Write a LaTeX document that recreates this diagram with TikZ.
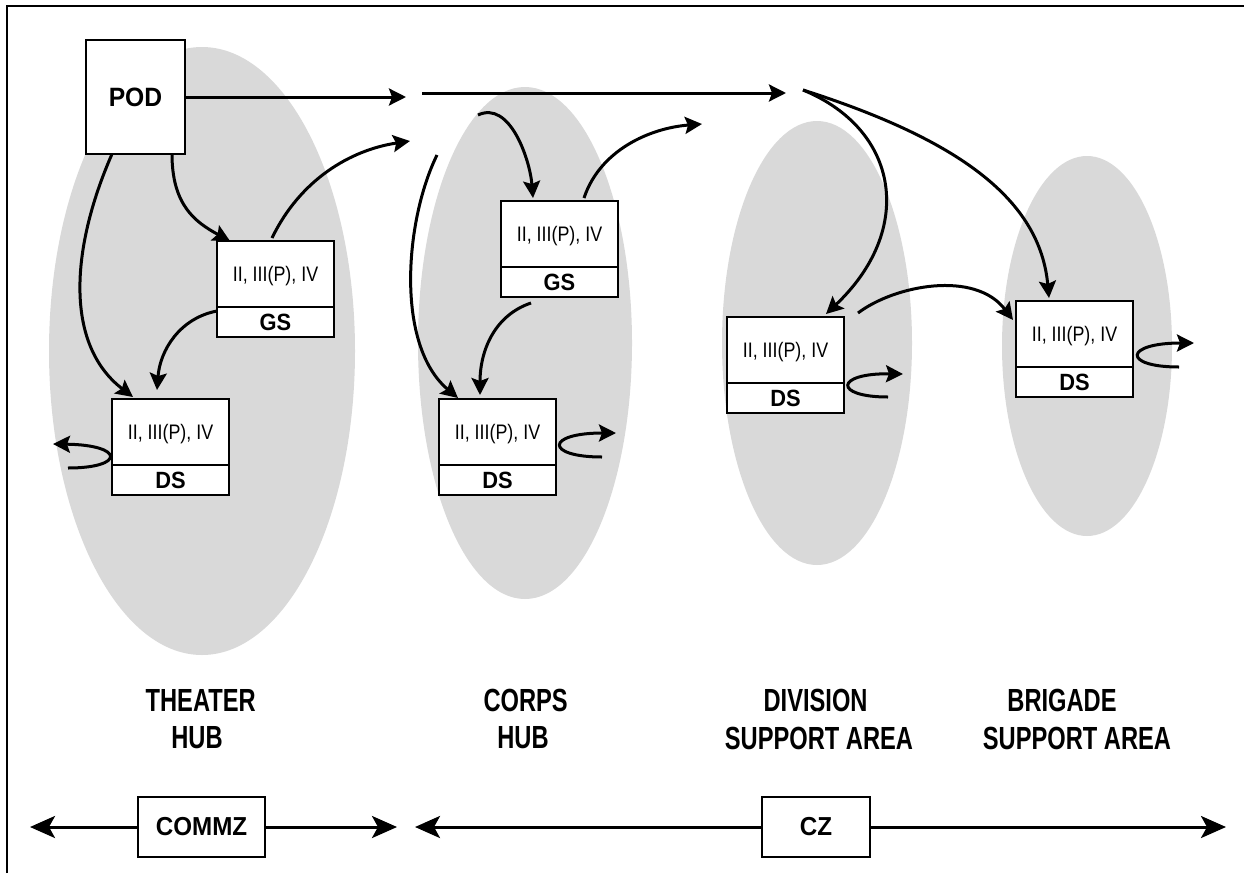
\documentclass[tikz,border=0pt]{standalone}
\usepackage{fontspec}
\setmainfont{Liberation Sans}
\newfontfamily\boxfont{Liberation Sans}[FakeStretch=0.85]
\newfontfamily\tagfont{Liberation Sans}[FakeStretch=0.93]
\newfontfamily\labfont{Liberation Sans}[FakeStretch=0.74]
\usetikzlibrary{arrows.meta}
\definecolor{ellgray}{RGB}{217,217,217}
\begin{document}
\begin{tikzpicture}[x=1pt,y=-1pt,
  hub/.style={fill=ellgray, draw=none},
  upbox/.style={draw, line width=2pt, fill=white, minimum width=117pt, minimum height=66pt, inner sep=0pt, outer sep=0pt, text depth=0pt, font=\boxfont\fontsize{21}{24}\selectfont},
  lowbox/.style={draw, line width=2pt, fill=white, minimum width=117pt, minimum height=30pt, inner sep=0pt, outer sep=0pt, font=\tagfont\fontsize{23.5}{26}\selectfont\bfseries},
  zonebox/.style={draw, line width=1.6pt, fill=white, minimum height=60pt, inner sep=0pt, outer sep=0pt, font=\tagfont\fontsize{26}{28}\selectfont\bfseries},
  lab/.style={inner sep=0pt, font=\labfont\fontsize{32}{36}\selectfont\bfseries},
  flow/.style={line width=3pt, -{Stealth[length=17pt,width=17pt,inset=3pt]}},
  bigflow/.style={line width=3pt, -{Stealth[length=25pt,width=22pt,inset=6pt]}}
]
\useasboundingbox (0,0) rectangle (1244,873);
% frame
\draw[line width=2.2pt] (7,873) -- (7,6) -- (1244,6);
% hubs
\fill[hub] (202,351) ellipse [x radius=153pt, y radius=304pt];
\fill[hub] (525,343) ellipse [x radius=107pt, y radius=256pt];
\fill[hub] (817,343) ellipse [x radius=95pt, y radius=222pt];
\fill[hub] (1087,346) ellipse [x radius=85pt, y radius=190pt];
% boxes
\node[draw, line width=2pt, fill=white, minimum width=99pt, minimum height=114pt, inner sep=0pt, outer sep=0pt, font=\tagfont\fontsize{26.5}{28}\selectfont\bfseries] (pod) at (135.5,97) {POD};
\node[upbox, anchor=north west] (gsT) at (217,241) {II, III(P), IV};
\node[lowbox, anchor=north] (gsTl) at (gsT.south) {GS};
\node[upbox, anchor=north west] (dsT) at (112,399) {II, III(P), IV};
\node[lowbox, anchor=north] (dsTl) at (dsT.south) {DS};
\node[upbox, anchor=north west] (gsC) at (501,201) {II, III(P), IV};
\node[lowbox, anchor=north] (gsCl) at (gsC.south) {GS};
\node[upbox, anchor=north west] (dsC) at (439,399) {II, III(P), IV};
\node[lowbox, anchor=north] (dsCl) at (dsC.south) {DS};
\node[upbox, anchor=north west] (dsD) at (727,317) {II, III(P), IV};
\node[lowbox, anchor=north] (dsDl) at (dsD.south) {DS};
\node[upbox, anchor=north west] (dsB) at (1016,301) {II, III(P), IV};
\node[lowbox, anchor=north] (dsBl) at (dsB.south) {DS};
% free ends
\coordinate (a1) at (406,97);
\coordinate (a2s) at (422,93);
\coordinate (a2e) at (786,93);
\coordinate (fork) at (803,90);
\coordinate (upT) at (410,141);
\coordinate (cS1) at (437,155);
\coordinate (cS2) at (478,115);
\coordinate (upC) at (702,124);
\coordinate (lTs) at (68,468);
\coordinate (lTe) at (53,444);
\coordinate (lCs) at (602,457);
\coordinate (lCe) at (616,433);
\coordinate (lDs) at (888,397);
\coordinate (lDe) at (903,374);
\coordinate (lBs) at (1179,367);
\coordinate (lBe) at (1194,343);
% top flows
\draw[flow] (pod.east) -- (a1);
\draw[flow] (a2s) -- (a2e);
\draw[flow] (fork) .. controls (900,130) and (915,230) .. ([xshift=99pt,yshift=3pt]dsD.north west);
\draw[flow] (fork) .. controls (960,140) and (1040,200) .. ([xshift=33pt,yshift=3pt]dsB.north west);
\draw[flow] ([xshift=14pt,yshift=4pt]dsD.north east) .. controls (895,285) and (975,270) .. ([xshift=-3pt,yshift=-19pt]dsB.north west);
% theater
\draw[flow] ([xshift=-13pt]pod.south east) .. controls (172,205) and (195,222) .. ([xshift=13pt]gsT.north west);
\draw[flow] ([xshift=26pt]pod.south west) .. controls (70,250) and (65,345) .. ([xshift=21pt,yshift=2pt]dsT.north west);
\draw[flow] ([yshift=-4pt]gsTl.north west) .. controls (180,318) and (160,350) .. ([xshift=45pt,yshift=9pt]dsT.north west);
\draw[flow] ([xshift=55pt,yshift=3pt]gsT.north west) .. controls (300,180) and (350,150) .. (upT);
% corps
\draw[flow] (cS1) .. controls (405,220) and (395,345) .. ([xshift=19pt,yshift=1pt]dsC.north west);
\draw[flow] (cS2) .. controls (510,100) and (530,160) .. ([xshift=32pt,yshift=3pt]gsC.north west);
\draw[flow] ([xshift=83pt,yshift=3pt]gsC.north west) .. controls (600,150) and (650,128) .. (upC);
\draw[flow] ([xshift=30pt,yshift=-6pt]gsCl.south west) .. controls (495,315) and (480,350) .. ([xshift=41pt,yshift=4pt]dsC.north west);
% loops
\draw[flow] (lTs) .. controls (125,468) and (125,445) .. (lTe);
\draw[flow] (lCs) .. controls (545,457) and (545,433) .. (lCe);
\draw[flow] (lDs) .. controls (833,397) and (835,373) .. (lDe);
\draw[flow] (lBs) .. controls (1122,367) and (1124,343) .. (lBe);
% labels
\node[lab] (l1a) at (200.7,700) {THEATER};
\node[lab] (l1b) at (197,738) {HUB};
\node[lab] (l2a) at (525.6,700) {CORPS};
\node[lab] (l2b) at (523,738) {HUB};
\node[lab] (l3a) at (815.6,700) {DIVISION};
\node[lab] (l3b) at (819,738) {SUPPORT AREA};
\node[lab] (l4a) at (1062,700) {BRIGADE};
\node[lab] (l4b) at (1077,738) {SUPPORT AREA};
% zones
\node[zonebox, minimum width=127pt] (commz) at (201.5,827) {COMMZ};
\node[zonebox, minimum width=108pt] (cz) at (816,827) {CZ};
\coordinate (b1) at (30,827);
\coordinate (b2) at (397,827);
\coordinate (b3) at (415,827);
\coordinate (b4) at (1226,827);
\draw[bigflow] (commz.west) -- (b1);
\draw[bigflow] (commz.east) -- (b2);
\draw[bigflow] (cz.west) -- (b3);
\draw[bigflow] (cz.east) -- (b4);
\end{tikzpicture}
\end{document}
